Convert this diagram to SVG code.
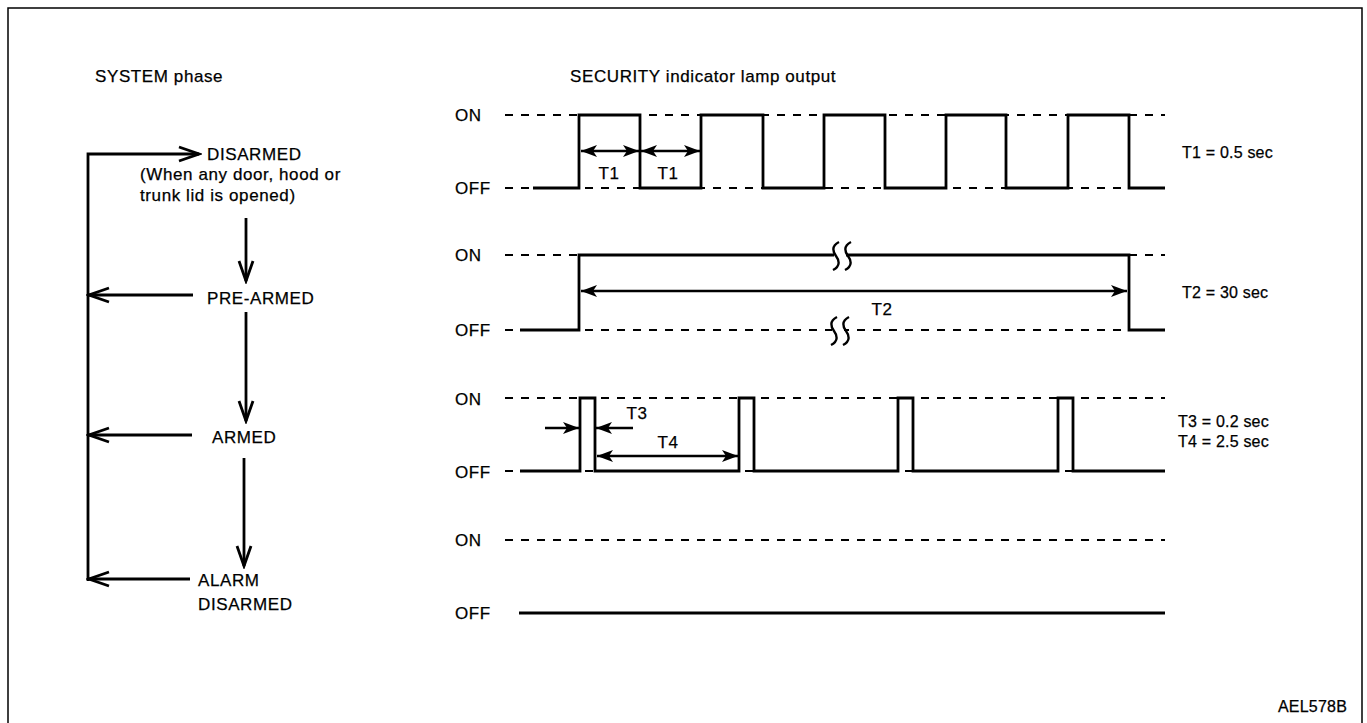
<svg xmlns="http://www.w3.org/2000/svg" width="1367" height="723" viewBox="0 0 1367 723">
<style>
text{font-family:"Liberation Sans",Arial,sans-serif;font-size:17px;letter-spacing:0.6px;fill:#000;stroke:#000;stroke-width:0.25}
.sm{font-size:16px;letter-spacing:0.2px}
.sig{fill:none;stroke:#000;stroke-width:2.8;stroke-linejoin:miter}
.dash{fill:none;stroke:#000;stroke-width:2.2;stroke-dasharray:8 8}
.ln{fill:none;stroke:#000;stroke-width:2.4}
.st{fill:none;stroke:#000;stroke-width:2.8}
.brk{fill:none;stroke:#000;stroke-width:2.4}
.mid{text-anchor:middle}
</style>
<defs>
<marker id="ah" viewBox="0 0 16 12" refX="16" refY="6" markerWidth="16" markerHeight="12" markerUnits="userSpaceOnUse" orient="auto-start-reverse">
<path d="M0,0 L16,6 L0,12 L4,6 z" fill="#000"/>
</marker>
<marker id="chev" viewBox="0 0 24 18" refX="21" refY="9" markerWidth="24" markerHeight="18" markerUnits="userSpaceOnUse" orient="auto">
<path d="M1,2 L21,9 L1,16" fill="none" stroke="#000" stroke-width="2.8"/>
</marker>
<path id="sbrk" d="M5,-14 C-3,-10 -1,-4 2,0 C5,4 7,10 -1,14"/>
</defs>
<rect x="0" y="0" width="1367" height="723" fill="#fff"/>
<path d="M8,723 V8 H1362 V723" fill="none" stroke="#000" stroke-width="1.5"/>

<g id="titles">
<text x="95" y="82">SYSTEM phase</text>
<text x="570" y="82">SECURITY indicator lamp output</text>
<text x="1278" y="712" class="sm">AEL578B</text>
</g>

<g id="node-disarmed">
<text x="207" y="160">DISARMED</text>
<text x="140" y="180">(When any door, hood or</text>
<text x="140" y="201">trunk lid is opened)</text>
</g>
<g id="node-prearmed"><text x="207" y="304">PRE-ARMED</text></g>
<g id="node-armed"><text x="212" y="443">ARMED</text></g>
<g id="node-alarm"><text x="198" y="586">ALARM</text><text x="198" y="610">DISARMED</text></g>

<g id="connectors">
<path class="st" d="M88,581 V154 H199" marker-end="url(#chev)"/>
<line class="st" x1="246" y1="218" x2="246" y2="281" marker-end="url(#chev)"/>
<line class="st" x1="246" y1="312" x2="246" y2="421" marker-end="url(#chev)"/>
<line class="st" x1="244" y1="458" x2="244" y2="566" marker-end="url(#chev)"/>
<line class="st" x1="193" y1="295" x2="89" y2="295" marker-end="url(#chev)"/>
<line class="st" x1="192" y1="435" x2="89" y2="435" marker-end="url(#chev)"/>
<line class="st" x1="190" y1="579" x2="89" y2="579" marker-end="url(#chev)"/>
</g>

<g id="chart1">
<text x="455" y="121">ON</text>
<text x="455" y="194">OFF</text>
<line class="dash" x1="505" y1="115" x2="1165" y2="115"/>
<line class="dash" x1="505" y1="188" x2="1165" y2="188"/>
<polyline class="sig" points="533,188 579,188 579,115 640,115 640,188 701,188 701,115 763,115 763,188 824,188 824,115 885,115 885,188 946,188 946,115 1006,115 1006,188 1068,188 1068,115 1129,115 1129,188 1165,188"/>
<line class="ln" x1="581" y1="151" x2="639" y2="151" marker-start="url(#ah)" marker-end="url(#ah)"/>
<line class="ln" x1="641" y1="151" x2="700" y2="151" marker-start="url(#ah)" marker-end="url(#ah)"/>
<text class="mid" x="609" y="179">T1</text>
<text class="mid" x="668" y="179">T1</text>
<text x="1182" y="158" class="sm">T1 = 0.5 sec</text>
</g>

<g id="chart2">
<text x="455" y="261">ON</text>
<text x="455" y="336">OFF</text>
<line class="dash" x1="505" y1="255" x2="1165" y2="255"/>
<line class="dash" x1="505" y1="330" x2="1165" y2="330"/>
<polyline class="sig" points="520,330 579,330 579,255 1129,255 1129,330 1165,330"/>
<rect x="834" y="250" width="12" height="10" fill="#fff"/>
<rect x="832" y="325" width="12" height="10" fill="#fff"/>
<use href="#sbrk" class="brk" x="834" y="256"/>
<use href="#sbrk" class="brk" x="846" y="256"/>
<use href="#sbrk" class="brk" x="832" y="331"/>
<use href="#sbrk" class="brk" x="844" y="331"/>
<line class="ln" x1="581" y1="291" x2="1127" y2="291" marker-start="url(#ah)" marker-end="url(#ah)"/>
<text class="mid" x="882" y="315">T2</text>
<text x="1182" y="298" class="sm">T2 = 30 sec</text>
</g>

<g id="chart3">
<text x="455" y="405">ON</text>
<text x="455" y="478">OFF</text>
<line class="dash" x1="505" y1="398" x2="1165" y2="398"/>
<line class="dash" x1="505" y1="471" x2="1165" y2="471"/>
<polyline class="sig" points="520,471 580,471 580,398 595,398 595,471 739,471 739,398 754,398 754,471 898,471 898,398 913,398 913,471 1058,471 1058,398 1073,398 1073,471 1165,471"/>
<line class="ln" x1="545" y1="428" x2="579" y2="428" marker-end="url(#ah)"/>
<line class="ln" x1="633" y1="428" x2="596" y2="428" marker-end="url(#ah)"/>
<line class="ln" x1="597" y1="456" x2="738" y2="456" marker-start="url(#ah)" marker-end="url(#ah)"/>
<text class="mid" x="637" y="419">T3</text>
<text class="mid" x="668" y="448">T4</text>
<text x="1178" y="427" class="sm">T3 = 0.2 sec</text>
<text x="1178" y="447" class="sm">T4 = 2.5 sec</text>
</g>

<g id="chart4">
<text x="455" y="546">ON</text>
<text x="455" y="619">OFF</text>
<line class="dash" x1="505" y1="540" x2="1165" y2="540"/>
<line class="sig" x1="519" y1="613" x2="1165" y2="613"/>
</g>
</svg>
